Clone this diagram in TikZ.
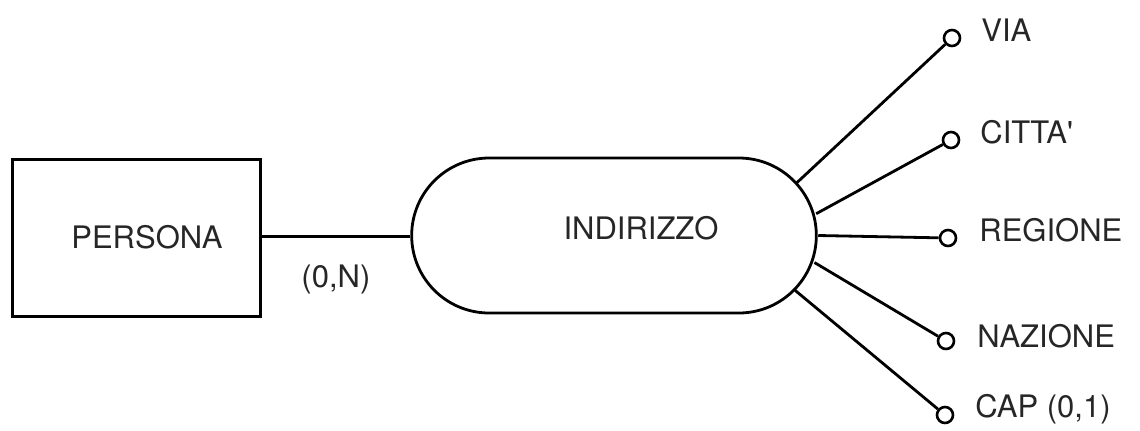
\documentclass[tikz,border=0pt]{standalone}
\usepackage{fontspec}
\newfontfamily\erfont{TeX Gyre Heros}
\usepackage{tikz}
\usetikzlibrary{shapes.misc, calc, positioning}

\tikzset{
	entity/.style = {draw, rectangle, line width=1.5pt, minimum width=124pt, minimum height=78.5pt},
	relation/.style = {draw, rounded rectangle, line width=1.4pt, minimum width=209pt, minimum height=77.5pt},
	attr/.style = {draw, circle, line width=1.3pt, minimum size=8pt, inner sep=0pt, fill=white},
	attrlabel/.style = {anchor=base west, inner sep=0pt},
	link/.style = {line width=1.4pt}
}

\begin{document}
\begin{tikzpicture}[x=0.5pt, y=-0.5pt, font=\erfont\fontsize{15.5}{18}\selectfont, text=black!85]
	\useasboundingbox (0,0) rectangle (1140,430);

	% entity and relationship
	\node [entity] (persona) at (136,237.5) {};
	\node at ([xshift=5.5pt]persona.center) {PERSONA};
	\node [relation] (indirizzo) at (614,235.5) {};
	\node at ([xshift=13.5pt, yshift=3.5pt]indirizzo.center) {INDIRIZZO};
	\draw [link] (persona.east |- 0,236.5) -- (indirizzo.west |- 0,236.5) node [below=3.5mm, pos=.5] {(0,N)};

	% centre of the right arc of the oval
	\coordinate (rc) at ($(indirizzo.east)+(-77.5,0)$);

	% attributes
	\node [attr] (via) at (952,38) {};
	\node [attr] (citta) at (951,140) {};
	\node [attr] (regione) at (948,238) {};
	\node [attr] (nazione) at (946,341) {};
	\node [attr] (cap) at (945,415) {};

	\node [attrlabel] at ([xshift=14.5pt, yshift=-1.5pt]via.center) {VIA};
	\node [attrlabel] at ([xshift=14.5pt, yshift=-1.5pt]citta.center) {CITTA'};
	\node [attrlabel] at ([xshift=15.5pt, yshift=-1.5pt]regione.center) {REGIONE};
	\node [attrlabel] at ([xshift=15.5pt, yshift=-3pt]nazione.center) {NAZIONE};
	\node [attrlabel] at ([xshift=15pt, yshift=-1pt]cap.center) {CAP (0,1)};

	\draw [link] ($(rc)+(-43:77.5)$) -- (via);
	\draw [link] ($(rc)+(-16:79)$) -- (citta);
	\draw [link] ($(rc)+(0:78)$) -- (regione);
	\draw [link] ($(rc)+(20:79)$) -- (nazione);
	\draw [link] ($(rc)+(45:77.5)$) -- (cap);
\end{tikzpicture}
\end{document}
